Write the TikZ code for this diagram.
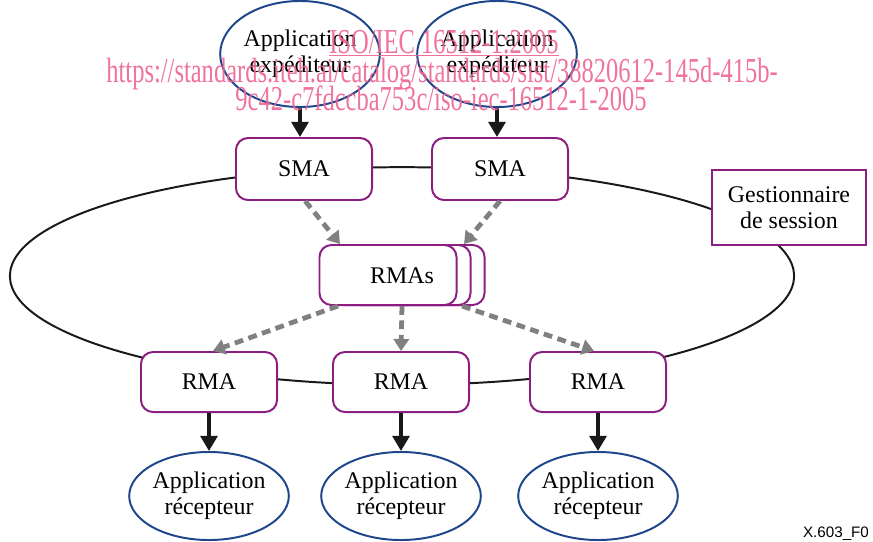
\documentclass[tikz,border=0pt]{standalone}
\usepackage{fontspec}
\setmainfont{Liberation Serif}
\setsansfont{Liberation Sans}
\usetikzlibrary{arrows.meta,shapes.geometric}
\definecolor{boxpurple}{RGB}{140,30,130}
\definecolor{appblue}{RGB}{30,70,140}
\definecolor{dashgray}{RGB}{128,128,128}
\definecolor{wmpink}{RGB}{238,100,145}

\begin{document}
\begin{tikzpicture}[x=0.025cm,y=-0.025cm]

\tikzstyle{smanode}=[rectangle,inner sep=0mm,minimum height=1.55cm,minimum width=3.4cm,rounded corners=0.3cm,line width=1.4pt,draw=boxpurple,fill=white,font=\fontsize{17}{18.6}\selectfont]
\tikzstyle{rmanode}=[smanode,minimum height=1.5cm]
\tikzstyle{gsnode}=[rectangle,inner sep=0mm,minimum height=1.875cm,minimum width=3.85cm,line width=1.4pt,draw=boxpurple,fill=white,align=center,font=\fontsize{17}{18.6}\selectfont]
\tikzstyle{appnode}=[ellipse,inner sep=0mm,minimum height=2.65cm,minimum width=3.5cm,line width=1.4pt,draw=appblue,align=center,font=\fontsize{17}{18.6}\selectfont]
\tikzstyle{recnode}=[appnode,minimum height=2.2cm,minimum width=3.95cm]
\tikzstyle{wmnode}=[anchor=base,inner sep=0mm,text=wmpink,opacity=0.9,xscale=0.7,font=\fontsize{24.9}{26}\selectfont]
\tikzstyle{barrow}=[-{Triangle[length=0.38cm,width=0.42cm]},line width=2.8pt,black!90]
\tikzstyle{garrow}=[-{Triangle[length=0.3cm,width=0.38cm]},line width=3.4pt,dashgray,dash pattern=on 0.22cm off 0.14cm]

\useasboundingbox (0,0) rectangle (873,541);

\begin{scope}[]

% session ring
\draw[line width=1.4pt,black!90] (402,276) ellipse [x radius=9.8cm, y radius=2.72cm];

\node [appnode] (sa1) at (300,54){Application\\exp\'editeur};
\node [appnode] (sa2) at (497,54){Application\\exp\'editeur};

\node [smanode] (s1) at (304,169){SMA};
\node [smanode] (s2) at (500,169){SMA};

\node [gsnode] (gs) at (789,207.5){Gestionnaire\\de session};

\node [rmanode,minimum width=3.425cm] (rb2) at (416,275){};
\node [rmanode,minimum width=3.425cm] (rb1) at (402,275){};
\node [rmanode,minimum width=3.425cm] (rf) at (388,275){};
\node [inner sep=0mm,font=\fontsize{17}{18.6}\selectfont] (rmas) at (402,276){RMAs};

\node [rmanode] (r1) at (209,382){RMA};
\node [rmanode] (r2) at (401,382){RMA};
\node [rmanode] (r3) at (598,382){RMA};

\node [recnode] (ra1) at (209,496){Application\\r\'ecepteur};
\node [recnode] (ra2) at (401,496){Application\\r\'ecepteur};
\node [recnode] (ra3) at (598,496){Application\\r\'ecepteur};

\draw[barrow] ([xshift=0em,yshift=0em]sa1.south)--([xshift=0em,yshift=0em]sa1.south |- s1.north);
\draw[barrow] ([xshift=0em,yshift=0em]sa2.south)--([xshift=0em,yshift=0em]sa2.south |- s2.north);
\draw[barrow] ([xshift=0em,yshift=0em]r1.south)--([xshift=0em,yshift=0em]r1.south |- ra1.north);
\draw[barrow] ([xshift=0em,yshift=0em]r2.south)--([xshift=0em,yshift=0em]r2.south |- ra2.north);
\draw[barrow] ([xshift=0em,yshift=0em]r3.south)--([xshift=0em,yshift=0em]r3.south |- ra3.north);

\draw[garrow] ([xshift=0.03cm,yshift=0em]s1.south)--([xshift=-1.2cm,yshift=0em]rf.north);
\draw[garrow] ([xshift=0cm,yshift=0em]s2.south)--([xshift=1.9cm,yshift=0em]rf.north);
\draw[garrow] ([xshift=-1.25cm,yshift=0em]rf.south)--([xshift=0.1cm,yshift=0em]r1.north);
\draw[garrow] ([xshift=0cm,yshift=0em]rb1.south)--([xshift=0cm,yshift=0em]r2.north);
\draw[garrow] ([xshift=1.85cm,yshift=0em]rf.south)--([xshift=-0.1cm,yshift=0em]r3.north);

\node [anchor=base,inner sep=0mm,font=\sffamily\fontsize{10.8}{12}\selectfont] (fig) at (836,537){X.603\_F0};

% watermark
\node [wmnode] (wm1) at (444,53){\underline{ISO/IEC 16512-1:2005}};
\node [wmnode] (wm2) at (442,82){https://standards.iteh.ai/catalog/standards/sist/38820612-145d-415b-};
\node [wmnode] (wm3) at (441,110){9c42-c7fdccba753c/iso-iec-16512-1-2005};

\end{scope}
\end{tikzpicture}
\end{document}
